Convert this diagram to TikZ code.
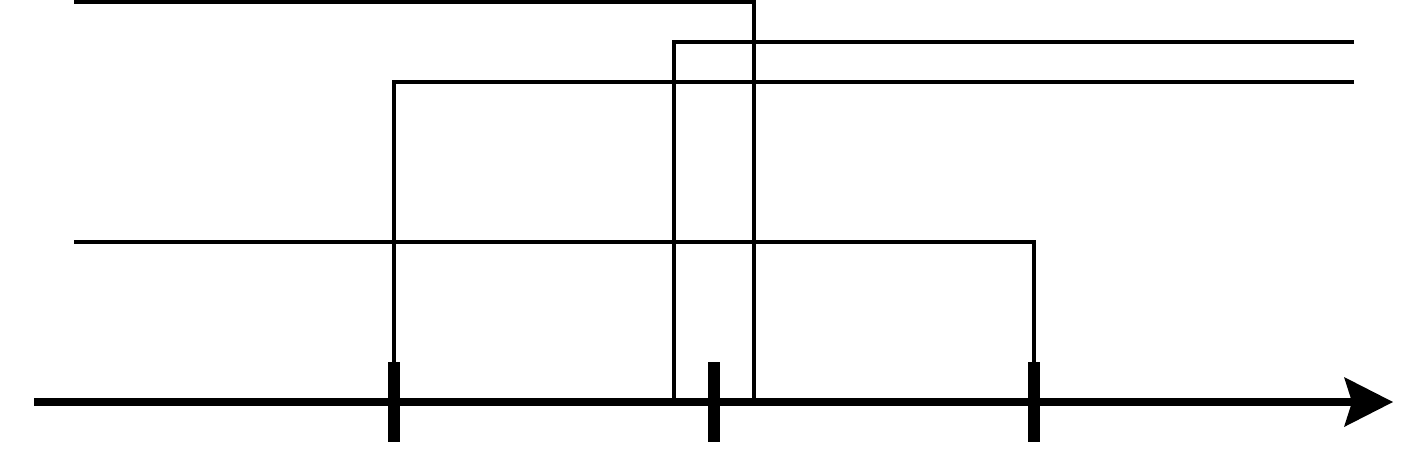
\documentclass[tikz,border=0pt]{standalone}
\usepackage{tikz}
\usetikzlibrary{arrows.meta}

\begin{document}
\begin{tikzpicture}[
        x=0.5pt, y=-0.5pt,
        axis/.style={line width=4pt, -{Stealth[length=24.5pt, width=25pt, inset=4pt, line width=0pt]}},
        tickmark/.style={line width=6pt},
        wire/.style={line width=2pt}
    ]

    \useasboundingbox (0,0) rectangle (1428,452);

    \coordinate (start) at (34,402);
    \coordinate (stop) at (1393,402);
    \coordinate (t1) at (394,402);
    \coordinate (t2) at (714,402);
    \coordinate (t3) at (1034,402);

    \coordinate (ain) at (74,2);
    \coordinate (aout) at (754,402);
    \coordinate (bin) at (1354,42);
    \coordinate (bout) at (674,402);
    \coordinate (cin) at (1354,82);
    \coordinate (din) at (74,242);

    \draw[wire] (ain) -| (aout);
    \draw[wire] (bin) -| (bout);
    \draw[wire] (cin) -| ([yshift=20pt]t1);
    \draw[wire] (din) -| ([yshift=20pt]t3);

    \draw[axis] (start) -- (stop);

    \draw[tickmark] ([yshift=20pt]t1) -- ([yshift=-20pt]t1);
    \draw[tickmark] ([yshift=20pt]t2) -- ([yshift=-20pt]t2);
    \draw[tickmark] ([yshift=20pt]t3) -- ([yshift=-20pt]t3);

\end{tikzpicture}
\end{document}
